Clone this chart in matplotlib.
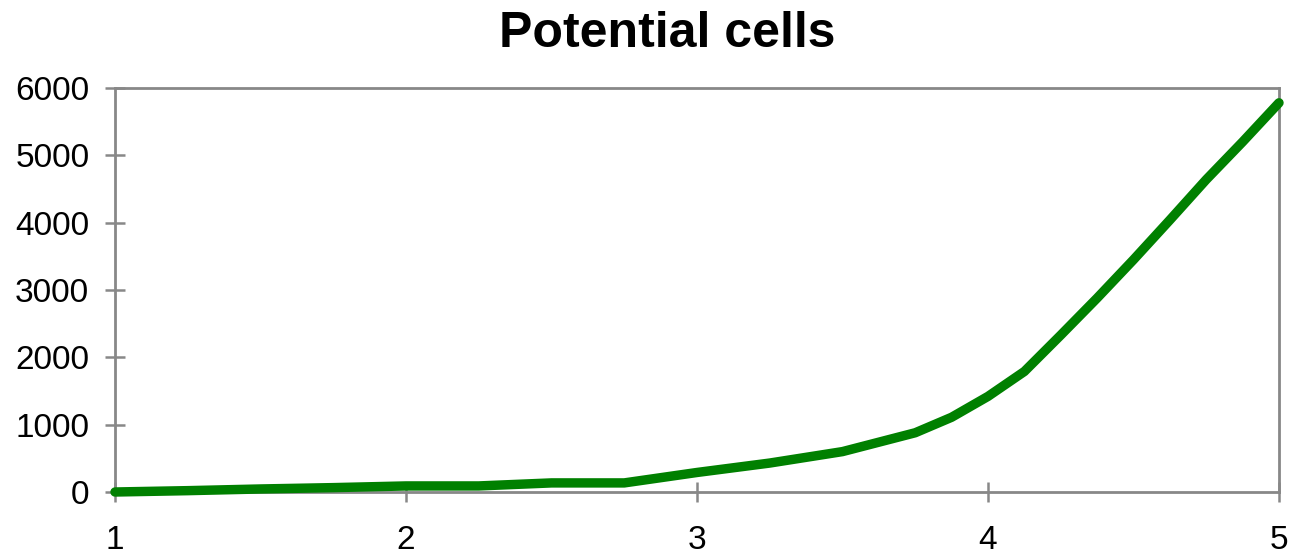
import matplotlib.pyplot as plt

plt.rcParams['font.family'] = ['Liberation Sans', 'DejaVu Sans']

# values
x_vals = [1, 1.25, 1.5, 1.75, 2, 2.25, 2.5, 2.75, 3, 3.25, 3.5, 3.625, 3.75,
          3.875, 4, 4.125, 4.25, 4.375, 4.5, 4.625, 4.75, 4.875, 5]
cells = [0, 20, 45, 65, 90, 90, 135, 135, 290, 430, 600, 740, 880,
         1110, 1420, 1790, 2330, 2880, 3450, 4040, 4640, 5200, 5780]
x_ticks = [1, 2, 3, 4, 5]
y_ticks = [0, 1000, 2000, 3000, 4000, 5000, 6000]

fig = plt.figure(figsize=(12.89, 5.55), dpi=100)
ax = fig.add_axes([115 / 1289, 63 / 555, 1164 / 1289, 404 / 555])

ax.plot(x_vals, cells, color='#008000', linewidth=6.8,
        solid_capstyle='round', solid_joinstyle='round', clip_on=False, zorder=5)

ax.set_xlim(1, 5)
ax.set_ylim(0, 6000)
ax.set_xticks(x_ticks)
ax.set_yticks(y_ticks)
ax.set_xticklabels([str(v) for v in x_ticks])
ax.set_yticklabels([str(v) for v in y_ticks])

for side in ['left', 'bottom', 'top', 'right']:
    ax.spines[side].set_color('#888888')
    ax.spines[side].set_linewidth(2)

ax.tick_params(axis='both', direction='inout', length=15, width=1.8,
               color='#888888', labelsize=24, labelcolor='black')
ax.tick_params(axis='x', pad=16)
ax.tick_params(axis='y', pad=11)

fig.text(667 / 1289, 1 - 47 / 555, 'Potential cells', ha='center', va='baseline',
         fontsize=36, fontweight='bold')

plt.savefig('out.png', dpi=100, facecolor='white')
